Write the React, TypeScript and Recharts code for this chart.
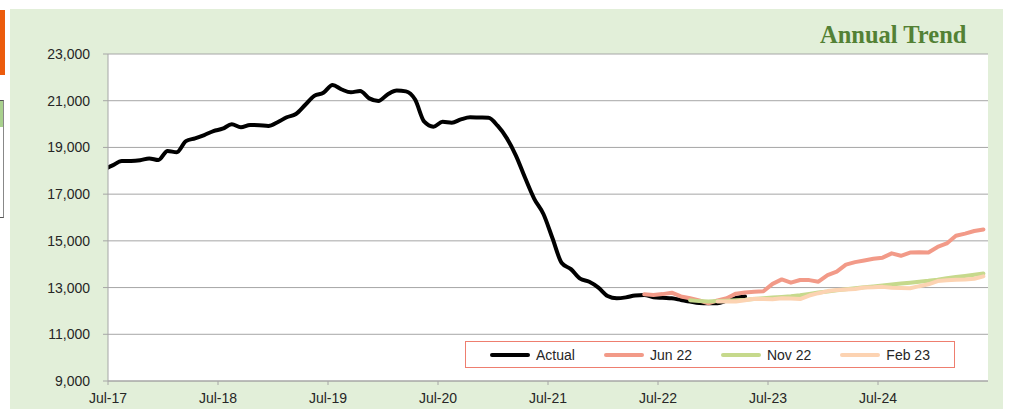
import React from "react";
import { LineChart, Line, XAxis, YAxis, CartesianGrid } from "recharts";

// Monthly index 0 = Jul-17; points sit mid-month (index + 0.5)
const xTickLabels = ["Jul-17", "Jul-18", "Jul-19", "Jul-20", "Jul-21", "Jul-22", "Jul-23", "Jul-24"];
const yTicks = [9000, 11000, 13000, 15000, 17000, 19000, 21000, 23000];

// Actual starts one month before the axis (Jun-17) and is clipped
const actualStart = -1;
const actualValues = [
  18050, 18230, 18420, 18420, 18450, 18530, 18460, 18850, 18790, 19270,
  19390, 19530, 19700, 19800, 19990, 19860, 19960, 19950, 19920, 20080,
  20290, 20430, 20815, 21210, 21340, 21670, 21480, 21360, 21415, 21100,
  20990, 21270, 21440, 21400, 21050, 20100, 19890, 20100, 20060, 20200,
  20290, 20280, 20270, 19930, 19400, 18650, 17700, 16800, 16150, 15100,
  14050, 13790, 13380, 13250, 13000, 12640, 12540, 12580, 12660, 12680,
  12590, 12560, 12540, 12470, 12400, 12340, 12330, 12330, 12440, 12560,
  12620,
];

const jun22Start = 58;
const jun22Values = [
  12710, 12680, 12720, 12780, 12620, 12540, 12450, 12320, 12450, 12540,
  12740, 12790, 12820, 12840, 13160, 13350, 13210, 13325, 13320, 13250,
  13530, 13680, 13980, 14090, 14160, 14230, 14280, 14465, 14360, 14500,
  14510, 14500, 14740, 14890, 15220, 15310, 15420, 15490,
];

const nov22Start = 63;
const nov22Values = [
  12460, 12420, 12400, 12420, 12440, 12460, 12480, 12510, 12540, 12570,
  12600, 12630, 12670, 12730, 12790, 12830, 12880, 12930, 12970, 13010,
  13050, 13090, 13130, 13170, 13210, 13250, 13290, 13340, 13400, 13450,
  13500, 13550, 13600,
];

const feb23Start = 66;
const feb23Values = [
  12400, 12400, 12400, 12460, 12520, 12510, 12500, 12540, 12530, 12510,
  12660, 12760, 12850, 12900, 12920, 12940, 13000, 13010, 13030, 12990,
  12980, 12970, 13060, 13140, 13280, 13310, 13330, 13350, 13380, 13480,
];

const series = [
  { key: "actual", name: "Actual", color: "#000000", start: actualStart, values: actualValues },
  { key: "jun22", name: "Jun 22", color: "#F29A88", start: jun22Start, values: jun22Values },
  { key: "nov22", name: "Nov 22", color: "#C6D98C", start: nov22Start, values: nov22Values },
  { key: "feb23", name: "Feb 23", color: "#FCD3B2", start: feb23Start, values: feb23Values },
];

type Row = { x: number; [k: string]: number | undefined };

const rows: Row[] = [];
for (let m = actualStart; m <= 95; m++) {
  const row: Row = { x: m + 0.5 };
  series.forEach((s) => {
    const i = m - s.start;
    if (i >= 0 && i < s.values.length) row[s.key] = s.values[i];
  });
  rows.push(row);
}

const tickStyle = { fill: "#262626", fontSize: 14, fontFamily: "Liberation Sans, Arial, sans-serif" };

export default function App() {
  return (
    <div style={{ position: "absolute", left: 0, top: 0, width: 1025, height: 409, background: "#fff", overflow: "hidden" }}>
      {/* bits of neighbouring dashboard panels */}
      <div style={{ position: "absolute", left: 0, top: 10, width: 5, height: 65, background: "#EC5B0C" }} />
      <div
        style={{
          position: "absolute",
          left: -2,
          top: 100,
          width: 6,
          height: 118,
          borderTop: "1px solid #555",
          borderBottom: "1px solid #555",
          borderRight: "1px solid #888",
          boxSizing: "border-box",
          background: "#fff",
        }}
      >
        <div style={{ height: 26, background: "#A9D18E" }} />
      </div>

      <div style={{ position: "absolute", left: 10, top: 9, width: 993, height: 400, background: "#E2EFD9" }}>
        <LineChart width={993} height={400} data={rows} margin={{ top: 45, right: 15, bottom: 0, left: 0 }}>
          <CartesianGrid horizontal vertical={false} stroke="#A6A6A6" fill="#ffffff" />
          <XAxis
            dataKey="x"
            type="number"
            domain={[0, 96]}
            allowDataOverflow
            ticks={[0, 12, 24, 36, 48, 60, 72, 84]}
            tickFormatter={(v: number) => xTickLabels[Math.round(v / 12)]}
            height={28}
            stroke="#A6A6A6"
            tickSize={4}
            tickMargin={8}
            tick={tickStyle}
            interval={0}
          />
          <YAxis
            domain={[9000, 23000]}
            ticks={yTicks}
            allowDataOverflow
            width={98}
            stroke="#A6A6A6"
            tickSize={5}
            tickMargin={13}
            tick={tickStyle}
            tickFormatter={(v: number) => v.toLocaleString("en-US")}
            interval={0}
          />
          {series.map((s) => (
            <Line
              key={s.key}
              dataKey={s.key}
              name={s.name}
              type={s.key === "actual" ? "monotone" : "linear"}
              stroke={s.color}
              strokeWidth={4}
              strokeLinecap="round"
              strokeLinejoin="round"
              dot={false}
              activeDot={false}
              connectNulls={false}
              isAnimationActive={false}
            />
          ))}
        </LineChart>

        <div
          style={{
            position: "absolute",
            left: 810,
            top: 12,
            fontFamily: "Liberation Serif, serif",
            fontWeight: "bold",
            fontSize: 24.5,
            lineHeight: "28px",
            color: "#538135",
            whiteSpace: "nowrap",
          }}
        >
          Annual Trend
        </div>

        <div
          style={{
            position: "absolute",
            left: 455,
            top: 332,
            width: 490,
            height: 27,
            border: "1px solid #EE7E6F",
            boxSizing: "border-box",
            background: "#fff",
            display: "flex",
            alignItems: "center",
            paddingLeft: 24,
            gap: 29,
            fontFamily: "Liberation Sans, Arial, sans-serif",
            fontSize: 14,
            color: "#262626",
          }}
        >
          {series.map((s) => (
            <div key={s.key} style={{ display: "flex", alignItems: "center" }}>
              <div style={{ width: 40, height: 4, borderRadius: 2, background: s.color, marginRight: 6 }} />
              <span>{s.name}</span>
            </div>
          ))}
        </div>
      </div>
    </div>
  );
}
